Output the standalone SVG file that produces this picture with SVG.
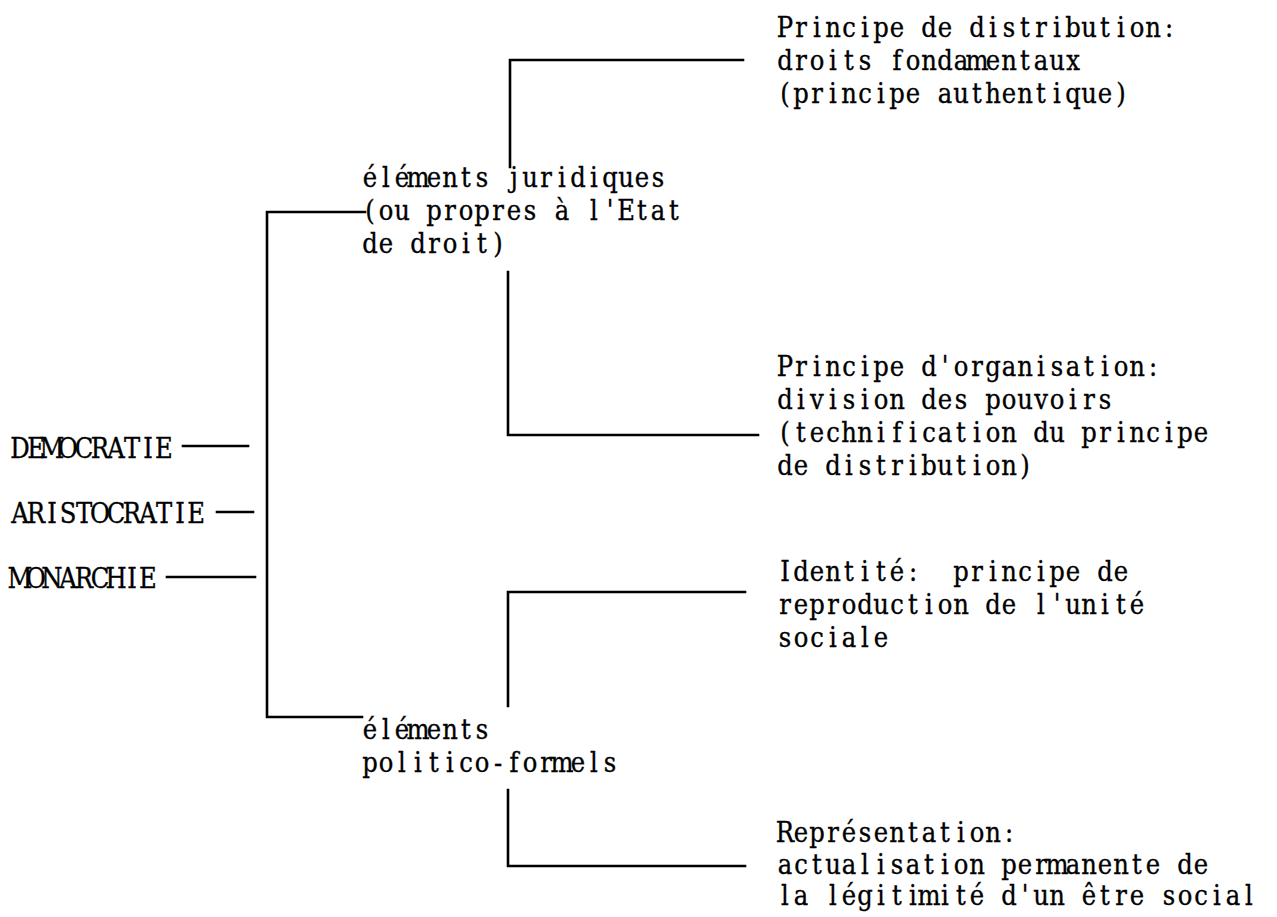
<svg xmlns="http://www.w3.org/2000/svg" width="1277" height="917" viewBox="0 0 1277 917">
<style>
text{font-family:"DejaVu Serif","Liberation Serif",serif;font-size:27px;fill:#000;stroke:#000;stroke-width:0.35px;text-anchor:middle}
.c{stroke:#000;stroke-width:2.6;fill:none;stroke-linecap:square;stroke-linejoin:miter}
</style>
<rect width="1277" height="917" fill="#fff"/>
<g id="connectors" class="c">
<path d="M248,446 H183"/>
<path d="M253,512 H217"/>
<path d="M255,577 H167"/>
<path d="M365,212 H267 V717 H362"/>
<path d="M510,167 V60 H743"/>
<path d="M508,272 V435 H758"/>
<path d="M508,706 V592 H745"/>
<path d="M508,790 V866 H745"/>
</g>
<g id="democratie" transform="scale(0.9,1)"><text x="22.22 40 57.78 75.56 93.33 111.11 128.89 146.67 164.44 182.22 200 217.78" y="458">DEMOCRATIE</text></g>
<g id="aristocratie" transform="scale(0.9,1)"><text x="22.22 40 57.78 75.56 93.33 111.11 128.89 146.67 164.44 182.22 200 217.78" y="523">ARISTOCRATIE</text></g>
<g id="monarchie" transform="scale(0.9,1)"><text x="22.22 40 57.78 75.56 93.33 111.11 128.89 146.67 164.44 182.22 200 217.78" y="588">MONARCHIE</text></g>
<g id="elements-juridiques" transform="scale(0.9,1)">
<text x="411.11 428.89 446.67 464.44 482.22 500 517.78 535.56 553.33 571.11 588.89 606.67 624.44 642.22 660 677.78 695.56 713.33 731.11 748.89" y="187">éléments juridiques</text>
<text x="411.11 428.89 446.67 464.44 482.22 500 517.78 535.56 553.33 571.11 588.89 606.67 624.44 642.22 660 677.78 695.56 713.33 731.11 748.89" y="220">(ou propres à l'Etat</text>
<text x="411.11 428.89 446.67 464.44 482.22 500 517.78 535.56 553.33 571.11 588.89 606.67 624.44 642.22 660 677.78 695.56 713.33 731.11 748.89" y="253">de droit)</text>
</g>
<g id="elements-politico" transform="scale(0.9,1)">
<text x="411.11 428.89 446.67 464.44 482.22 500 517.78 535.56 553.33 571.11 588.89 606.67 624.44 642.22 660 677.78 695.56 713.33 731.11 748.89" y="739">éléments</text>
<text x="411.11 428.89 446.67 464.44 482.22 500 517.78 535.56 553.33 571.11 588.89 606.67 624.44 642.22 660 677.78 695.56 713.33 731.11 748.89" y="772">politico-formels</text>
</g>
<g id="distribution" transform="scale(0.9,1)">
<text x="872.22 890 907.78 925.56 943.33 961.11 978.89 996.67 1014.44 1032.22 1050 1067.78 1085.56 1103.33 1121.11 1138.89 1156.67 1174.44 1192.22 1210 1227.78 1245.56 1263.33 1281.11 1298.89 1316.67 1334.44 1352.22 1370 1387.78" y="37">Principe de distribution:</text>
<text x="872.22 890 907.78 925.56 943.33 961.11 978.89 996.67 1014.44 1032.22 1050 1067.78 1085.56 1103.33 1121.11 1138.89 1156.67 1174.44 1192.22 1210 1227.78 1245.56 1263.33 1281.11 1298.89 1316.67 1334.44 1352.22 1370 1387.78" y="70">droits fondamentaux</text>
<text x="872.22 890 907.78 925.56 943.33 961.11 978.89 996.67 1014.44 1032.22 1050 1067.78 1085.56 1103.33 1121.11 1138.89 1156.67 1174.44 1192.22 1210 1227.78 1245.56 1263.33 1281.11 1298.89 1316.67 1334.44 1352.22 1370 1387.78" y="103">(principe authentique)</text>
</g>
<g id="organisation" transform="scale(0.9,1)">
<text x="872.22 890 907.78 925.56 943.33 961.11 978.89 996.67 1014.44 1032.22 1050 1067.78 1085.56 1103.33 1121.11 1138.89 1156.67 1174.44 1192.22 1210 1227.78 1245.56 1263.33 1281.11 1298.89 1316.67 1334.44 1352.22 1370 1387.78" y="376">Principe d'organisation:</text>
<text x="872.22 890 907.78 925.56 943.33 961.11 978.89 996.67 1014.44 1032.22 1050 1067.78 1085.56 1103.33 1121.11 1138.89 1156.67 1174.44 1192.22 1210 1227.78 1245.56 1263.33 1281.11 1298.89 1316.67 1334.44 1352.22 1370 1387.78" y="409">division des pouvoirs</text>
<text x="872.22 890 907.78 925.56 943.33 961.11 978.89 996.67 1014.44 1032.22 1050 1067.78 1085.56 1103.33 1121.11 1138.89 1156.67 1174.44 1192.22 1210 1227.78 1245.56 1263.33 1281.11 1298.89 1316.67 1334.44 1352.22 1370 1387.78" y="442">(technification du principe</text>
<text x="872.22 890 907.78 925.56 943.33 961.11 978.89 996.67 1014.44 1032.22 1050 1067.78 1085.56 1103.33 1121.11 1138.89 1156.67 1174.44 1192.22 1210 1227.78 1245.56 1263.33 1281.11 1298.89 1316.67 1334.44 1352.22 1370 1387.78" y="475">de distribution)</text>
</g>
<g id="identite" transform="scale(0.9,1)">
<text xml:space="preserve" x="872.22 890 907.78 925.56 943.33 961.11 978.89 996.67 1014.44 1032.22 1050 1067.78 1085.56 1103.33 1121.11 1138.89 1156.67 1174.44 1192.22 1210 1227.78 1245.56 1263.33 1281.11 1298.89 1316.67 1334.44 1352.22 1370 1387.78" y="581">Identité:  principe de</text>
<text x="872.22 890 907.78 925.56 943.33 961.11 978.89 996.67 1014.44 1032.22 1050 1067.78 1085.56 1103.33 1121.11 1138.89 1156.67 1174.44 1192.22 1210 1227.78 1245.56 1263.33 1281.11 1298.89 1316.67 1334.44 1352.22 1370 1387.78" y="614">reproduction de l'unité</text>
<text x="872.22 890 907.78 925.56 943.33 961.11 978.89 996.67 1014.44 1032.22 1050 1067.78 1085.56 1103.33 1121.11 1138.89 1156.67 1174.44 1192.22 1210 1227.78 1245.56 1263.33 1281.11 1298.89 1316.67 1334.44 1352.22 1370 1387.78" y="647">sociale</text>
</g>
<g id="representation" transform="scale(0.9,1)">
<text x="872.22 890 907.78 925.56 943.33 961.11 978.89 996.67 1014.44 1032.22 1050 1067.78 1085.56 1103.33 1121.11 1138.89 1156.67 1174.44 1192.22 1210 1227.78 1245.56 1263.33 1281.11 1298.89 1316.67 1334.44 1352.22 1370 1387.78" y="842">Représentation:</text>
<text x="872.22 890 907.78 925.56 943.33 961.11 978.89 996.67 1014.44 1032.22 1050 1067.78 1085.56 1103.33 1121.11 1138.89 1156.67 1174.44 1192.22 1210 1227.78 1245.56 1263.33 1281.11 1298.89 1316.67 1334.44 1352.22 1370 1387.78" y="874">actualisation permanente de</text>
<text x="872.22 890 907.78 925.56 943.33 961.11 978.89 996.67 1014.44 1032.22 1050 1067.78 1085.56 1103.33 1121.11 1138.89 1156.67 1174.44 1192.22 1210 1227.78 1245.56 1263.33 1281.11 1298.89 1316.67 1334.44 1352.22 1370 1387.78" y="905">la légitimité d'un être social</text>
</g>
</svg>
